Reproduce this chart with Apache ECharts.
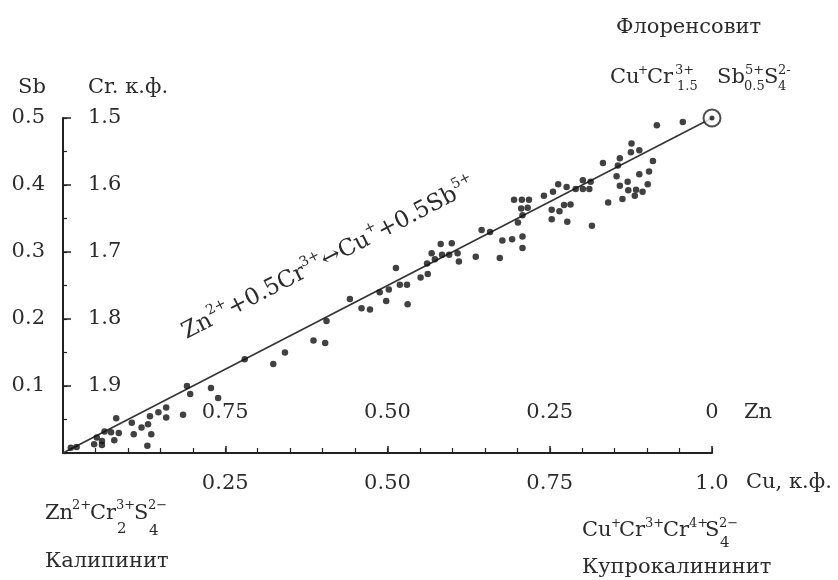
<!DOCTYPE html>
<html>
<head>
<meta charset="utf-8">
<script src="https://cdn.jsdelivr.net/npm/echarts@6/dist/echarts.min.js"></script>
<style>
  html, body { margin: 0; padding: 0; background: #fff; }
  #chart { width: 838px; height: 580px; }
</style>
</head>
<body>
<div id="chart"></div>
<script>
// Cu, к.ф. (x) и Sb (y) для каждого анализа
const cu = [0.012, 0.021, 0.052, 0.060, 0.048, 0.060, 0.064, 0.074, 0.082, 0.079,
  0.086, 0.106, 0.109, 0.121, 0.131, 0.136, 0.130, 0.134, 0.147, 0.159,
  0.159, 0.185, 0.191, 0.196, 0.228, 0.239, 0.280, 0.324, 0.342, 0.386,
  0.404, 0.406, 0.442, 0.460, 0.473, 0.488, 0.498, 0.502, 0.513, 0.519,
  0.530, 0.531, 0.551, 0.562, 0.561, 0.568, 0.573, 0.584, 0.582, 0.595,
  0.599, 0.608, 0.610, 0.636, 0.673, 0.645, 0.658, 0.677, 0.692, 0.708,
  0.708, 0.701, 0.708, 0.706, 0.716, 0.695, 0.707, 0.718, 0.741, 0.753,
  0.765, 0.753, 0.772, 0.782, 0.777, 0.755, 0.763, 0.776, 0.790, 0.801,
  0.811, 0.801, 0.813, 0.815, 0.832, 0.840, 0.853, 0.855, 0.858, 0.858,
  0.862, 0.870, 0.871, 0.876, 0.875, 0.881, 0.883, 0.888, 0.888, 0.893,
  0.901, 0.903, 0.909, 0.915, 0.955, 0.976];
const sb = [0.008, 0.009, 0.023, 0.018, 0.013, 0.012, 0.032, 0.031, 0.052, 0.019,
  0.030, 0.045, 0.028, 0.038, 0.043, 0.028, 0.011, 0.055, 0.061, 0.068,
  0.053, 0.057, 0.100, 0.088, 0.097, 0.082, 0.140, 0.133, 0.150, 0.168,
  0.164, 0.197, 0.230, 0.216, 0.214, 0.240, 0.227, 0.244, 0.276, 0.251,
  0.251, 0.222, 0.262, 0.267, 0.283, 0.298, 0.289, 0.296, 0.312, 0.296,
  0.313, 0.298, 0.286, 0.293, 0.291, 0.333, 0.330, 0.317, 0.319, 0.323,
  0.306, 0.344, 0.355, 0.365, 0.366, 0.378, 0.378, 0.378, 0.384, 0.363,
  0.361, 0.349, 0.370, 0.371, 0.345, 0.390, 0.401, 0.397, 0.394, 0.394,
  0.394, 0.407, 0.405, 0.339, 0.433, 0.374, 0.413, 0.429, 0.440, 0.399,
  0.379, 0.405, 0.392, 0.462, 0.449, 0.384, 0.393, 0.452, 0.416, 0.390,
  0.401, 0.420, 0.436, 0.489, 0.494, 0.515];

// линия замещения Zn2+ + 0.5Cr3+ <-> Cu+ + 0.5Sb5+
const trendCu = [0, 1.0];
const trendSb = [0, 0.5];
// флоренсовит
const endCu = [1.0];
const endSb = [0.5];

// подписи делений
const sbTickLabels = ['', '0.1', '0.2', '0.3', '0.4', '0.5'];
const crTickLabels = ['', '1.9', '1.8', '1.7', '1.6', '1.5'];
const cuTickLabels = ['', '0.25', '0.50', '0.75', '1.0'];
const znTickLabels = ['', '0.75', '0.50', '0.25', '0'];

const FONT = '"DejaVu Serif", "Liberation Serif", serif';
const INK = '#2b2b2b';
const AXIS = '#222';

const chart = echarts.init(document.getElementById('chart'));

const pts = cu.map((x, i) => [x, sb[i]]);

// обычная подпись
function label (text, x, y, size) {
  return {
    type: 'text', x: x, y: y,
    style: {
      text: text, fill: INK, fontFamily: FONT, fontSize: size || 21,
      align: 'left', verticalAlign: 'middle'
    }
  };
}

// формула: [текст, x, y(центр), размер]
function formula (parts) {
  return parts.map(p => label(p[0], p[1], p[2], p[3]));
}

// ось только с мелкими делениями
function tickAxis (interval, len) {
  return {
    type: 'value', min: 0, interval: interval,
    axisLine: { show: false },
    axisTick: { show: true, inside: true, length: len, lineStyle: { color: AXIS, width: 1.2 } },
    axisLabel: { show: false },
    splitLine: { show: false }
  };
}

const graphics = [].concat(
  [
    label('Sb', 18, 88),
    label('Cr. к.ф.', 88, 88),
    label('Zn', 744, 413),
    label('Cu, к.ф.', 746, 483),
    label('Флоренсовит', 616, 28),
    label('Калипинит', 45, 562),
    label('Купрокалининит', 582, 568),
    {
      type: 'text', x: 189, y: 344, rotation: 27.3 * Math.PI / 180,
      style: {
        text: '{b|Zn}{s|2+}{b|+0.5Cr}{s|3+}{b|↔Cu}{s|+}{b|+0.5Sb}{s|5+}',
        fill: INK, fontFamily: FONT, align: 'left', verticalAlign: 'bottom',
        rich: {
          b: { fontFamily: FONT, fontSize: 23, lineHeight: 27, verticalAlign: 'bottom', fill: INK },
          s: { fontFamily: FONT, fontSize: 14, lineHeight: 27, verticalAlign: 'top', fill: INK }
        }
      }
    }
  ],
  // Cu+Cr3+1.5 Sb5+0.5 S2-4
  formula([
    ['Cu', 610, 78, 21], ['+', 638, 71, 12],
    ['Cr', 647, 78, 21], ['3+', 675, 71, 13], ['1.5', 677, 87, 13],
    ['Sb', 717, 78, 21], ['5+', 745, 71, 13], ['0.5', 744, 87, 13],
    ['S', 764, 78, 21], ['2-', 778, 71, 13], ['4', 778, 87, 13]
  ]),
  // Zn2+Cr3+2 S2-4
  formula([
    ['Zn', 45, 514, 21], ['2+', 72, 506, 13],
    ['Cr', 90, 514, 21], ['3+', 116, 506, 13], ['2', 117, 529, 15],
    ['S', 134, 514, 21], ['2−', 148, 506, 13], ['4', 149, 531, 15]
  ]),
  // Cu+Cr3+Cr4+S2-4
  formula([
    ['Cu', 582, 531, 21], ['+', 611, 524, 12],
    ['Cr', 619, 531, 21], ['3+', 645, 524, 13],
    ['Cr', 663, 531, 21], ['4+', 689, 524, 13],
    ['S', 705, 531, 21], ['2−', 719, 524, 13], ['4', 720, 543, 15]
  ])
);

const option = {
  backgroundColor: '#fff',
  animation: false,
  grid: { left: 63, right: 126, top: 118, bottom: 127 },
  xAxis: [
    {
      // Cu, к.ф.
      type: 'value', min: 0, max: 1, interval: 0.25,
      axisLine: { show: true, lineStyle: { color: AXIS, width: 2 } },
      axisTick: { show: true, inside: true, length: 7, lineStyle: { color: AXIS, width: 1.5 } },
      splitLine: { show: false },
      axisLabel: {
        margin: 20, color: INK, fontFamily: FONT, fontSize: 21,
        formatter: (v, i) => cuTickLabels[i]
      }
    },
    {
      // Zn = 1 - Cu
      type: 'value', min: 0, max: 1, interval: 0.25, position: 'bottom',
      axisLine: { show: false }, axisTick: { show: false }, splitLine: { show: false },
      axisLabel: {
        inside: true, margin: 30, color: INK, fontFamily: FONT, fontSize: 21,
        formatter: (v, i) => znTickLabels[i]
      }
    },
    Object.assign(tickAxis(0.05, 5), { max: 1, position: 'bottom' })
  ],
  yAxis: [
    {
      // Sb
      type: 'value', min: 0, max: 0.5, interval: 0.1,
      axisLine: { show: true, lineStyle: { color: AXIS, width: 2 } },
      axisTick: { show: true, inside: true, length: 8, lineStyle: { color: AXIS, width: 1.5 } },
      splitLine: { show: false },
      axisLabel: {
        margin: 18, color: INK, fontFamily: FONT, fontSize: 21,
        formatter: (v, i) => sbTickLabels[i]
      }
    },
    {
      // Cr = 2 - Sb
      type: 'value', min: 0, max: 0.5, interval: 0.1, position: 'left',
      axisLine: { show: false }, axisTick: { show: false }, splitLine: { show: false },
      axisLabel: {
        inside: true, margin: 25, color: INK, fontFamily: FONT, fontSize: 21,
        formatter: (v, i) => crTickLabels[i]
      }
    },
    Object.assign(tickAxis(0.05, 4), { max: 0.5, position: 'left' })
  ],
  series: [
    {
      type: 'line',
      data: trendCu.map((x, i) => [x, trendSb[i]]),
      symbol: 'none',
      lineStyle: { color: '#333', width: 1.6 },
      z: 2
    },
    {
      type: 'scatter',
      data: pts,
      symbol: 'circle',
      symbolSize: 6.5,
      itemStyle: { color: '#111' },
      z: 3
    },
    {
      // кольцо вокруг точки флоренсовита
      type: 'scatter',
      data: endCu.map((x, i) => [x, endSb[i]]),
      symbol: 'circle',
      symbolSize: 17,
      itemStyle: { color: '#fff', borderColor: AXIS, borderWidth: 2 },
      z: 4
    },
    {
      type: 'scatter',
      data: endCu.map((x, i) => [x, endSb[i]]),
      symbol: 'circle',
      symbolSize: 5,
      itemStyle: { color: '#111' },
      z: 5
    }
  ],
  graphic: graphics
};

chart.setOption(option);
</script>
</body>
</html>
